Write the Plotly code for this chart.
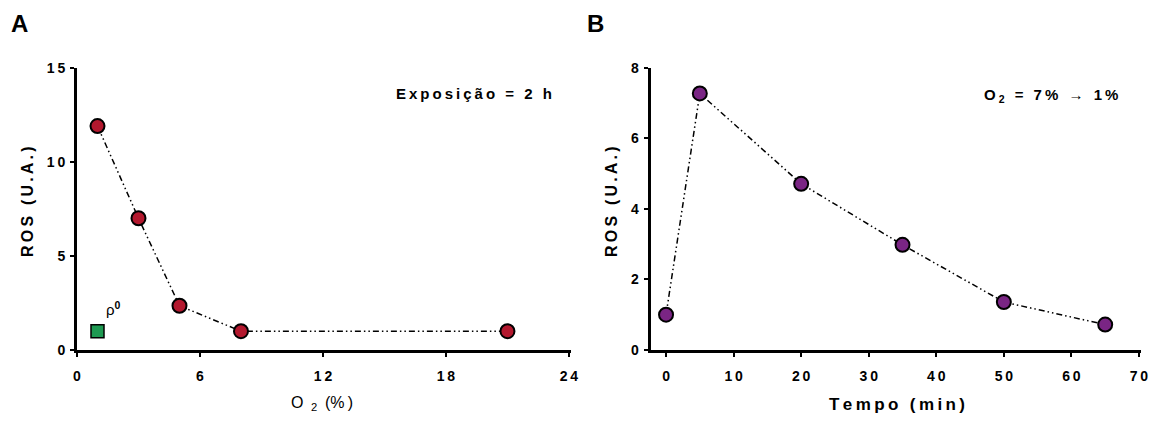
import plotly.graph_objects as go

# ---------------- data ----------------
o2_pct = [1, 3, 5, 8, 21]
ros_a = [11.9, 7.0, 2.35, 1.0, 1.0]
rho0_x = [1]
rho0_y = [1.0]

tempo_min = [0, 5, 20, 35, 50, 65]
ros_b = [1.0, 7.27, 4.71, 2.98, 1.36, 0.72]

a_xticks = [0, 6, 12, 18, 24]
a_yticks = [0, 5, 10, 15]
b_xticks = [0, 10, 20, 30, 40, 50, 60, 70]
b_yticks = [0, 2, 4, 6, 8]

RED = "#B3182E"
GREEN = "#1E9A52"
PURPLE = "#7A2584"
FONT = "Liberation Sans, Arial, sans-serif"
TS = "\u2009"
DASH = "6px,3px,1.5px,3px,1.5px,3px"

# page is 1157x424; the html body keeps an 8px margin, so the figure is 16px smaller
PAGE_W, PAGE_H, BODY = 1157, 424, 8
W, H = PAGE_W - 2 * BODY, PAGE_H - 2 * BODY


def fx(px):
    return (px - BODY) / W


def fy(py):
    return 1 - (py - BODY) / H


def spaced(v):
    return TS.join(str(v))


def letters(s):
    words = s.split(" ")
    return (TS + " " + TS).join(TS.join(w) for w in words)


fig = go.Figure()

fig.add_trace(go.Scatter(
    x=o2_pct, y=ros_a, mode="lines+markers", xaxis="x", yaxis="y",
    line=dict(color="black", width=1.5, dash=DASH),
    marker=dict(size=14, color=RED, line=dict(color="black", width=2)),
    cliponaxis=False, showlegend=False))
fig.add_trace(go.Scatter(
    x=rho0_x, y=rho0_y, mode="markers", xaxis="x", yaxis="y",
    marker=dict(size=13, symbol="square", color=GREEN, line=dict(color="black", width=1.5)),
    cliponaxis=False, showlegend=False))
fig.add_trace(go.Scatter(
    x=tempo_min, y=ros_b, mode="lines+markers", xaxis="x2", yaxis="y2",
    line=dict(color="black", width=1.5, dash=DASH),
    marker=dict(size=14, color=PURPLE, line=dict(color="black", width=2)),
    cliponaxis=False, showlegend=False))

ydom = [fy(350), fy(67.7)]
axcommon = dict(showgrid=False, zeroline=False, showline=True, linewidth=3,
                linecolor="black", ticks="outside", ticklen=4, tickwidth=2,
                tickcolor="black", tickmode="array", automargin=False,
                tickfont=dict(family=FONT, size=14, color="black", weight="bold"))

fig.update_layout(
    width=W, height=H,
    margin=dict(l=0, r=0, t=0, b=0),
    paper_bgcolor="white", plot_bgcolor="white",
    font=dict(family=FONT, color="black"),
    xaxis=dict(domain=[fx(77), fx(571)], range=[0, 24.1], anchor="y", ticklabelstandoff=7,
               tickvals=a_xticks, ticktext=[spaced(v) for v in a_xticks], **axcommon),
    yaxis=dict(domain=ydom, range=[0, 15], anchor="x", ticklabelstandoff=2,
               tickvals=a_yticks, ticktext=[spaced(v) for v in a_yticks], **axcommon),
    xaxis2=dict(domain=[fx(650.5), fx(1141)], range=[-2.3, 70.3], anchor="y2", ticklabelstandoff=7,
                tickvals=b_xticks, ticktext=[spaced(v) for v in b_xticks], **axcommon),
    yaxis2=dict(domain=ydom, range=[0, 8], anchor="x2", ticklabelstandoff=2,
                tickvals=b_yticks, ticktext=[spaced(v) for v in b_yticks], **axcommon),
)


def pann(text, px, py, size, angle=0):
    return dict(text=text, x=fx(px), y=fy(py), xref="paper", yref="paper",
                xanchor="center", yanchor="middle", textangle=angle,
                showarrow=False, font=dict(size=size, family=FONT, color="black"))


ann = [
    pann("<b>A</b>", 19, 24, 24),
    pann("<b>B</b>", 595, 24, 24),
    pann("<b>" + letters("ROS (U.A.)") + "</b>", 27, 202, 16, -90),
    pann("<b>" + letters("ROS (U.A.)") + "</b>", 611, 202, 16, -90),
    pann("O " + TS + "<sub>2</sub> " + TS + "(%" + TS + ")", 322, 403, 16),
    pann("<b>" + letters("Tempo (min)") + "</b>", 897, 404, 17),
    pann("<b>" + letters("Exposição = 2 h") + "</b>", 474, 93, 15),
    pann("<b>O" + TS + "<sub>2</sub>" + TS + " " + TS + "=" + TS + " " + TS + "7" + TS + "%"
         + TS + " " + TS + "</b>→<b>" + TS + " " + TS + "1" + TS + "%</b>", 1051, 95, 15),
    dict(text="ρ<sup><b>0</b></sup>", x=1.8, y=2.2, xref="x", yref="y",
         xanchor="center", yanchor="middle",
         showarrow=False, font=dict(size=15, family=FONT, color="black")),
]

fig.update_layout(annotations=ann)
fig.write_html("out.html", config={"displayModeBar": False})
